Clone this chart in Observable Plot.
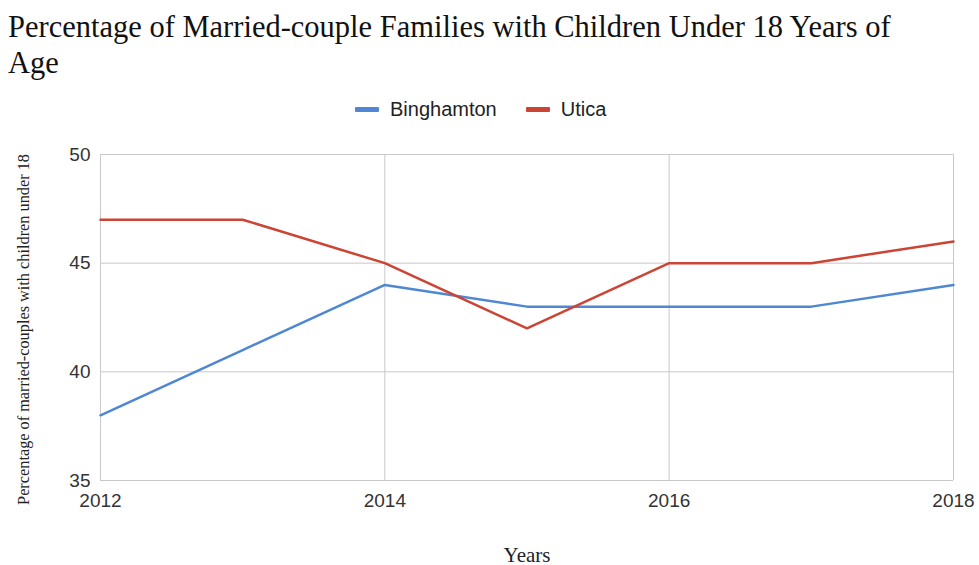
<!DOCTYPE html>
<html>
<head>
<meta charset="utf-8">
<script src="https://cdn.jsdelivr.net/npm/d3@7"></script>
<script src="https://cdn.jsdelivr.net/npm/@observablehq/plot@0.6"></script>
<style>
  html, body { margin: 0; padding: 0; background: #fff; }
  #wrap { width: 979px; height: 565px; overflow: hidden; }
  #title { font-family: "Liberation Serif", "Times New Roman", serif; font-size: 30.5px; line-height: 36px;
           color: #111; padding: 9px 0 0 8px; height: 72px; box-sizing: content-box; white-space: nowrap; }
  #legend { height: 57px; display: flex; align-items: center; padding-left: 355px;
            font-family: "Liberation Sans", Arial, sans-serif; font-size: 20px; color: #222; }
  .sw { width: 24px; height: 5px; border-radius: 1px; margin-right: 11px; }
  .item { display: flex; align-items: center; margin-right: 29px; }
  svg { display: block; }
</style>
</head>
<body>
<div id="wrap">
  <div id="title"></div>
  <div id="legend"></div>
  <div id="chart"></div>
</div>
<script>
const titleLines = ["Percentage of Married-couple Families with Children Under 18 Years of", "Age"];
const years = [2012, 2013, 2014, 2015, 2016, 2017, 2018];
const binghamton = [38, 41, 44, 43, 43, 43, 44];
const utica = [47, 47, 45, 42, 45, 45, 46];
const seriesNames = ["Binghamton", "Utica"];
const seriesColors = ["#4f87d3", "#cc4434"];
const xTicks = [2012, 2014, 2016, 2018];
const yTicks = [35, 40, 45, 50];
const xLabel = "Years";
const yLabel = "Percentage of married-couples with children under 18";

document.getElementById("title").innerHTML = titleLines.join("<br>");
const legend = document.getElementById("legend");
seriesNames.forEach((name, i) => {
  const item = document.createElement("div");
  item.className = "item";
  const sw = document.createElement("div");
  sw.className = "sw";
  sw.style.background = seriesColors[i];
  const t = document.createElement("span");
  t.textContent = name;
  item.appendChild(sw); item.appendChild(t);
  legend.appendChild(item);
});

const seriesValues = [binghamton, utica];
const data = seriesNames.flatMap((name, s) => years.map((yr, i) => ({year: yr, value: seriesValues[s][i], series: name})));

const chart = Plot.plot({
  width: 979,
  height: 427,
  marginTop: 16,
  marginBottom: 85,
  marginLeft: 100,
  marginRight: 26,
  style: {fontFamily: "'Liberation Sans', Arial, sans-serif", fontSize: "19px", color: "#333", background: "#fff"},
  x: {domain: [2012, 2018]},
  y: {domain: [35, 50]},
  color: {domain: seriesNames, range: seriesColors},
  marks: [
    Plot.gridX(xTicks, {stroke: "#c8c8c8", strokeOpacity: 1, strokeWidth: 1}),
    Plot.gridY(yTicks, {stroke: "#c8c8c8", strokeOpacity: 1, strokeWidth: 1}),
    Plot.axisX(xTicks, {tickSize: 0, tickPadding: 13, label: null, tickFormat: d => String(d), fill: "#333"}),
    Plot.axisY(yTicks, {tickSize: 0, tickPadding: 10, label: null, fill: "#333"}),
    Plot.lineY(data, {x: "year", y: "value", z: "series", stroke: "series", strokeWidth: 2.5}),
    Plot.text([xLabel], {text: d => d, frameAnchor: "bottom", lineAnchor: "bottom", dy: 81,
      fontFamily: "'Liberation Serif', 'Times New Roman', serif", fontSize: 21, fill: "#222"}),
    Plot.text([yLabel], {text: d => d, frameAnchor: "left", textAnchor: "middle", rotate: -90, dx: -77, dy: 12,
      fontFamily: "'Liberation Serif', 'Times New Roman', serif", fontSize: 16.3, fill: "#222"})
  ]
});
document.getElementById("chart").appendChild(chart);
</script>
</body>
</html>
